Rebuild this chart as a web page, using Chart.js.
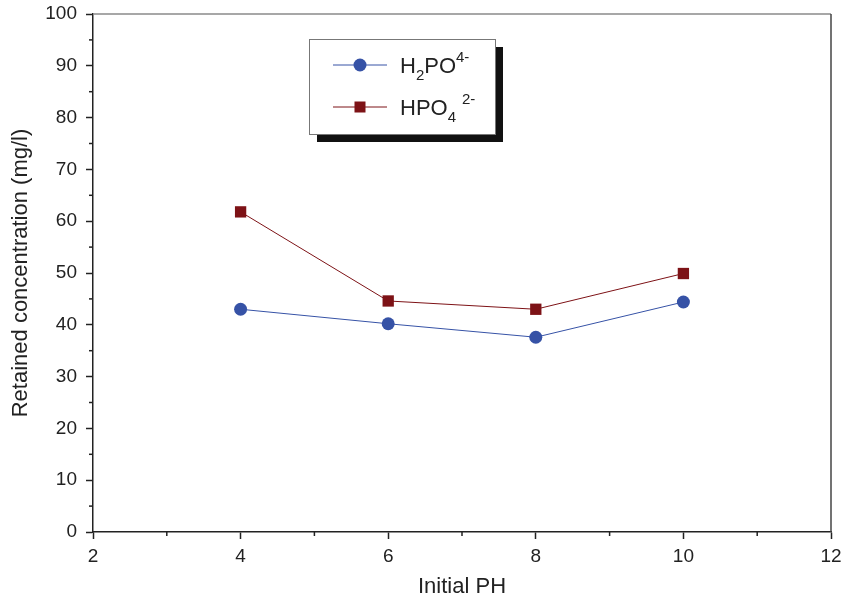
<!DOCTYPE html>
<html lang="en">
<head>
    <meta charset="UTF-8">
    <title>Retained concentration vs Initial PH</title>
    <script src="https://cdn.jsdelivr.net/npm/chart.js"></script>
    <style>
        body {
            margin: 0;
            padding: 0;
            background: #ffffff;
        }
        .wrap {
            width: 845px;
            height: 603px;
        }
    </style>
</head>
<body>
    <div class="wrap">
        <canvas id="phChart" width="845" height="603"></canvas>
    </div>

    <script>
        // data
        const phValues = [4, 6, 8, 10];
        const h2po4Values = [43.0, 40.2, 37.6, 44.4];
        const hpo4Values = [61.8, 44.6, 43.0, 49.9];

        // legend labels as [text, kind] pieces (kind: n = normal, sub, sup)
        const h2po4Label = [['H', 'n'], ['2', 'sub'], ['PO', 'n'], ['4-', 'sup']];
        const hpo4Label = [['HPO', 'n'], ['4', 'sub'], ['2-', 'sup']];

        const xMinorTicks = [3, 5, 7, 9, 11];
        const yMinorTicks = [5, 15, 25, 35, 45, 55, 65, 75, 85, 95];

        const blue = '#3652a6';
        const red = '#7d1216';
        const axisColor = '#222222';
        const fontFamily = "'Liberation Sans', Arial, sans-serif";

        const toPoints = (ys) => phValues.map((x, i) => ({ x: x, y: ys[i] }));

        // top + right frame lines and minor ticks
        const framePlugin = {
            id: 'frame',
            afterDraw(chart) {
                const ctx = chart.ctx;
                const a = chart.chartArea;
                const xs = chart.scales.x;
                const ys = chart.scales.y;
                ctx.save();
                ctx.strokeStyle = '#8a8a8a';
                ctx.lineWidth = 1.5;
                ctx.beginPath();
                ctx.moveTo(a.left, a.top);
                ctx.lineTo(a.right, a.top);
                ctx.stroke();
                ctx.strokeStyle = '#444444';
                ctx.beginPath();
                ctx.moveTo(a.right, a.top);
                ctx.lineTo(a.right, a.bottom);
                ctx.stroke();

                ctx.strokeStyle = axisColor;
                ctx.lineWidth = 1.5;
                xMinorTicks.forEach(v => {
                    const px = xs.getPixelForValue(v);
                    ctx.beginPath();
                    ctx.moveTo(px, a.bottom);
                    ctx.lineTo(px, a.bottom + 4);
                    ctx.stroke();
                });
                yMinorTicks.forEach(v => {
                    const py = ys.getPixelForValue(v);
                    ctx.beginPath();
                    ctx.moveTo(a.left, py);
                    ctx.lineTo(a.left - 4, py);
                    ctx.stroke();
                });
                ctx.restore();
            }
        };

        // boxed legend with drop shadow, chemical formula text
        const legendPlugin = {
            id: 'formulaLegend',
            afterDraw(chart) {
                const ctx = chart.ctx;
                const box = { x: 309, y: 39, w: 186, h: 95 };
                ctx.save();
                ctx.fillStyle = '#111111';
                ctx.fillRect(box.x + 8, box.y + 8, box.w, box.h);
                ctx.fillStyle = '#ffffff';
                ctx.fillRect(box.x, box.y, box.w, box.h);
                ctx.strokeStyle = '#777777';
                ctx.lineWidth = 1;
                ctx.strokeRect(box.x + 0.5, box.y + 0.5, box.w, box.h);

                const rows = [
                    { ds: chart.data.datasets[0], parts: h2po4Label, y: 65 },
                    { ds: chart.data.datasets[1], parts: hpo4Label, y: 107 }
                ];
                rows.forEach(r => {
                    ctx.strokeStyle = r.ds.borderColor;
                    ctx.lineWidth = 1;
                    ctx.beginPath();
                    ctx.moveTo(333, r.y);
                    ctx.lineTo(387, r.y);
                    ctx.stroke();
                    ctx.fillStyle = r.ds.backgroundColor;
                    if (r.ds.pointStyle === 'circle') {
                        ctx.beginPath();
                        ctx.arc(360, r.y, 6.5, 0, Math.PI * 2);
                        ctx.fill();
                    } else {
                        ctx.fillRect(354.5, r.y - 5.5, 11, 11);
                    }
                    let tx = 400;
                    let prev = 'n';
                    ctx.fillStyle = axisColor;
                    ctx.textBaseline = 'alphabetic';
                    r.parts.forEach(p => {
                        let size = 22, dy = 8;
                        if (p[1] === 'sub') { size = 15; dy = 15; }
                        if (p[1] === 'sup') { size = 15; dy = -3; }
                        if (p[1] === 'sup' && prev === 'sub') tx += 6;
                        ctx.font = size + 'px ' + fontFamily;
                        ctx.fillText(p[0], tx, r.y + dy);
                        tx += ctx.measureText(p[0]).width;
                        prev = p[1];
                    });
                });
                ctx.restore();
            }
        };

        const ctx = document.getElementById('phChart').getContext('2d');
        new Chart(ctx, {
            type: 'line',
            data: {
                datasets: [{
                    label: 'H2PO4-',
                    data: toPoints(h2po4Values),
                    borderColor: blue,
                    backgroundColor: blue,
                    borderWidth: 1,
                    pointStyle: 'circle',
                    pointRadius: 6.5,
                    pointBorderWidth: 0,
                    tension: 0
                }, {
                    label: 'HPO4 2-',
                    data: toPoints(hpo4Values),
                    borderColor: red,
                    backgroundColor: red,
                    borderWidth: 1,
                    pointStyle: 'rect',
                    pointRadius: 8,
                    pointBorderWidth: 0,
                    tension: 0
                }]
            },
            options: {
                responsive: false,
                animation: false,
                layout: { padding: { top: 14, right: 14, left: 0, bottom: 0 } },
                plugins: {
                    legend: { display: false },
                    tooltip: { enabled: false }
                },
                scales: {
                    x: {
                        type: 'linear',
                        min: 2,
                        max: 12,
                        afterFit: (s) => {
                            s.height = 71;
                            s.paddingLeft = 0;
                            s.paddingRight = 0;
                        },
                        ticks: {
                            stepSize: 2,
                            padding: 6,
                            color: axisColor,
                            font: { family: fontFamily, size: 19 }
                        },
                        grid: {
                            drawOnChartArea: false,
                            tickLength: 7,
                            tickColor: axisColor,
                            tickWidth: 1.5
                        },
                        border: { color: axisColor, width: 1.5 },
                        title: {
                            display: true,
                            text: 'Initial PH',
                            color: axisColor,
                            font: { family: fontFamily, size: 22 },
                            padding: { top: 0, bottom: 3 }
                        }
                    },
                    y: {
                        min: 0,
                        max: 100,
                        afterFit: (s) => {
                            s.width = 93;
                            s.paddingTop = 0;
                            s.paddingBottom = 0;
                        },
                        ticks: {
                            stepSize: 10,
                            padding: 9,
                            color: axisColor,
                            font: { family: fontFamily, size: 19 }
                        },
                        grid: {
                            drawOnChartArea: false,
                            tickLength: 7,
                            tickColor: axisColor,
                            tickWidth: 1.5
                        },
                        border: { color: axisColor, width: 1.5 },
                        title: {
                            display: true,
                            text: 'Retained concentration (mg/l)',
                            color: axisColor,
                            font: { family: fontFamily, size: 22 },
                            padding: { top: 8, bottom: 0 }
                        }
                    }
                }
            },
            plugins: [framePlugin, legendPlugin]
        });
    </script>
</body>
</html>
